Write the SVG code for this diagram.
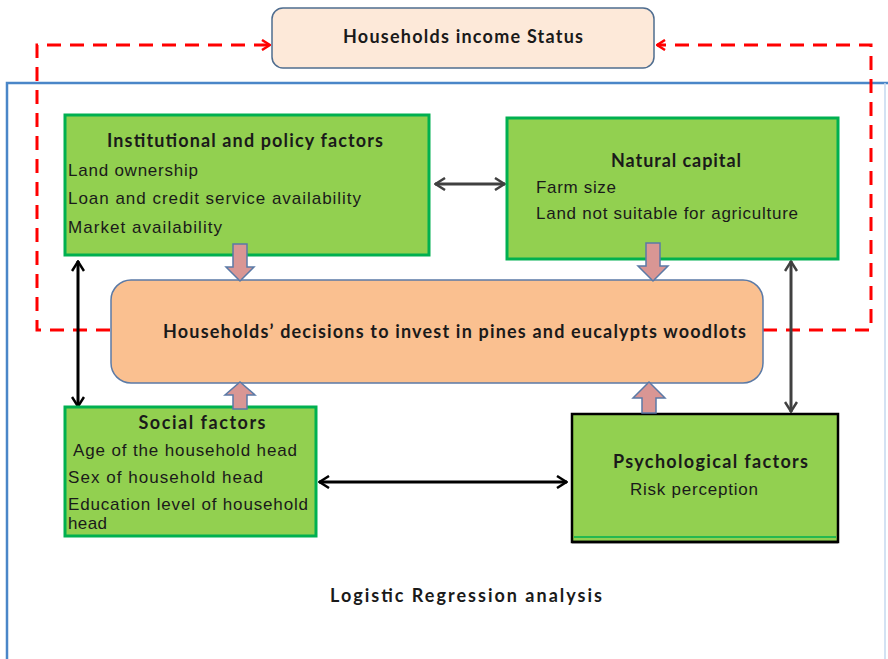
<svg xmlns="http://www.w3.org/2000/svg" width="888" height="659" viewBox="0 0 888 659">
<defs>
<style>
.green{fill:#92d050;stroke:#00b050;stroke-width:3}
.t{font-family:"Lato","Liberation Sans",sans-serif;font-weight:bold;font-size:18px;fill:#1a1a1a}
.i{font-family:"Liberation Sans",Arial,sans-serif;font-size:17px;fill:#1a1a1a}
.blk{fill:#d99694;stroke:#5b7aa6;stroke-width:1.5}
.red{fill:none;stroke:#ff0000;stroke-width:3;stroke-dasharray:14 9}
.dbl{fill:none;stroke-width:3}
</style>
<marker id="ahRed" viewBox="0 0 10 12" refX="9" refY="6" markerWidth="10" markerHeight="12" markerUnits="userSpaceOnUse" orient="auto">
<path d="M1,1 L9,6 L1,11" fill="none" stroke="#ff0000" stroke-width="2.5"/>
</marker>
<marker id="ahGray" viewBox="0 0 12 14" refX="11" refY="7" markerWidth="12" markerHeight="14" markerUnits="userSpaceOnUse" orient="auto-start-reverse">
<path d="M1,1 L10.5,7 L1,13" fill="none" stroke="#404040" stroke-width="2.5"/>
</marker>
<marker id="ahBlack" viewBox="0 0 12 14" refX="11" refY="7" markerWidth="12" markerHeight="14" markerUnits="userSpaceOnUse" orient="auto-start-reverse">
<path d="M1,1 L10.5,7 L1,13" fill="none" stroke="#000" stroke-width="2.5"/>
</marker>
</defs>
<rect width="888" height="659" fill="#fff"/>

<g id="frame">
<path d="M7,659 V83 H888" fill="none" stroke="#4a86c8" stroke-width="2.5"/>
<line x1="885" y1="83" x2="885" y2="659" stroke="#c5d9ef" stroke-width="1.5"/>
</g>

<g id="income-status">
<rect x="272" y="8" width="382" height="60" rx="11" fill="#fde9d9" stroke="#4f6d8f" stroke-width="1.5"/>
<text class="t" x="463" y="43" text-anchor="middle" textLength="240">Households income Status</text>
</g>

<g id="connectors">
<path class="red" d="M110,330 H37 V45 H270" marker-end="url(#ahRed)"/>
<path class="red" d="M763,330 H871 V45 H657" marker-end="url(#ahRed)"/>
<line class="dbl" x1="435" y1="184" x2="505" y2="184" stroke="#404040" marker-start="url(#ahGray)" marker-end="url(#ahGray)"/>
<line class="dbl" x1="78" y1="261" x2="78" y2="407" stroke="#000" marker-start="url(#ahBlack)" marker-end="url(#ahBlack)"/>
<line class="dbl" x1="791" y1="261" x2="791" y2="412" stroke="#404040" marker-start="url(#ahGray)" marker-end="url(#ahGray)"/>
<line class="dbl" x1="319" y1="482" x2="567" y2="482" stroke="#000" marker-start="url(#ahBlack)" marker-end="url(#ahBlack)"/>
</g>

<g id="institutional">
<rect class="green" x="65" y="115" width="364" height="140"/>
<text class="t" x="245" y="147" text-anchor="middle" textLength="276">Institutional and policy factors</text>
<text class="i" x="68" y="176" textLength="130">Land ownership</text>
<text class="i" x="68" y="204" textLength="293">Loan and credit service availability</text>
<text class="i" x="68" y="233" textLength="154">Market availability</text>
</g>

<g id="natural-capital">
<rect class="green" x="507" y="118" width="331" height="141"/>
<text class="t" x="676" y="167" text-anchor="middle" textLength="130">Natural capital</text>
<text class="i" x="536" y="193" textLength="80">Farm size</text>
<text class="i" x="536" y="219" textLength="262">Land not suitable  for agriculture</text>
</g>

<g id="decision">
<rect x="111" y="280" width="652" height="103" rx="20" fill="#fac090" stroke="#5b7aa6" stroke-width="1.5"/>
<text class="t" x="163" y="338" textLength="583">Households’ decisions to invest in pines and eucalypts woodlots</text>
</g>

<g id="social">
<rect class="green" x="65" y="407" width="251" height="129"/>
<text class="t" x="202" y="429" text-anchor="middle" textLength="127">Social  factors</text>
<text class="i" x="73" y="456" textLength="224">Age of the household  head</text>
<text class="i" x="68" y="483" textLength="195">Sex of  household head</text>
<text class="i" x="68" y="510" textLength="240">Education  level of household</text>
<text class="i" x="68" y="529" textLength="39">head</text>
</g>

<g id="psychological">
<rect x="572" y="414" width="266" height="128" fill="#92d050" stroke="#000" stroke-width="2.5"/>
<line x1="574" y1="537" x2="836" y2="537" stroke="#00b050" stroke-width="1.5"/>
<line x1="572" y1="542" x2="838" y2="542" stroke="#000" stroke-width="2.5"/>
<text class="t" x="613" y="468" textLength="195">Psychological factors</text>
<text class="i" x="630" y="495" textLength="128">Risk perception</text>
</g>

<g id="block-arrows">
<path class="blk" d="M233,244 H247 V267 H254 L240,281 L226,267 H233 Z"/>
<path class="blk" d="M646,243 H660 V266 H668 L653,281 L638,266 H646 Z"/>
<path class="blk" d="M233,409 H247 V395 H255 L240,382 L225,395 H233 Z"/>
<path class="blk" d="M642,413 H656 V398 H665 L649,382 L633,398 H642 Z"/>
</g>

<g id="caption">
<text class="t" x="330" y="602" textLength="272">Logistic Regression analysis</text>
</g>
</svg>
